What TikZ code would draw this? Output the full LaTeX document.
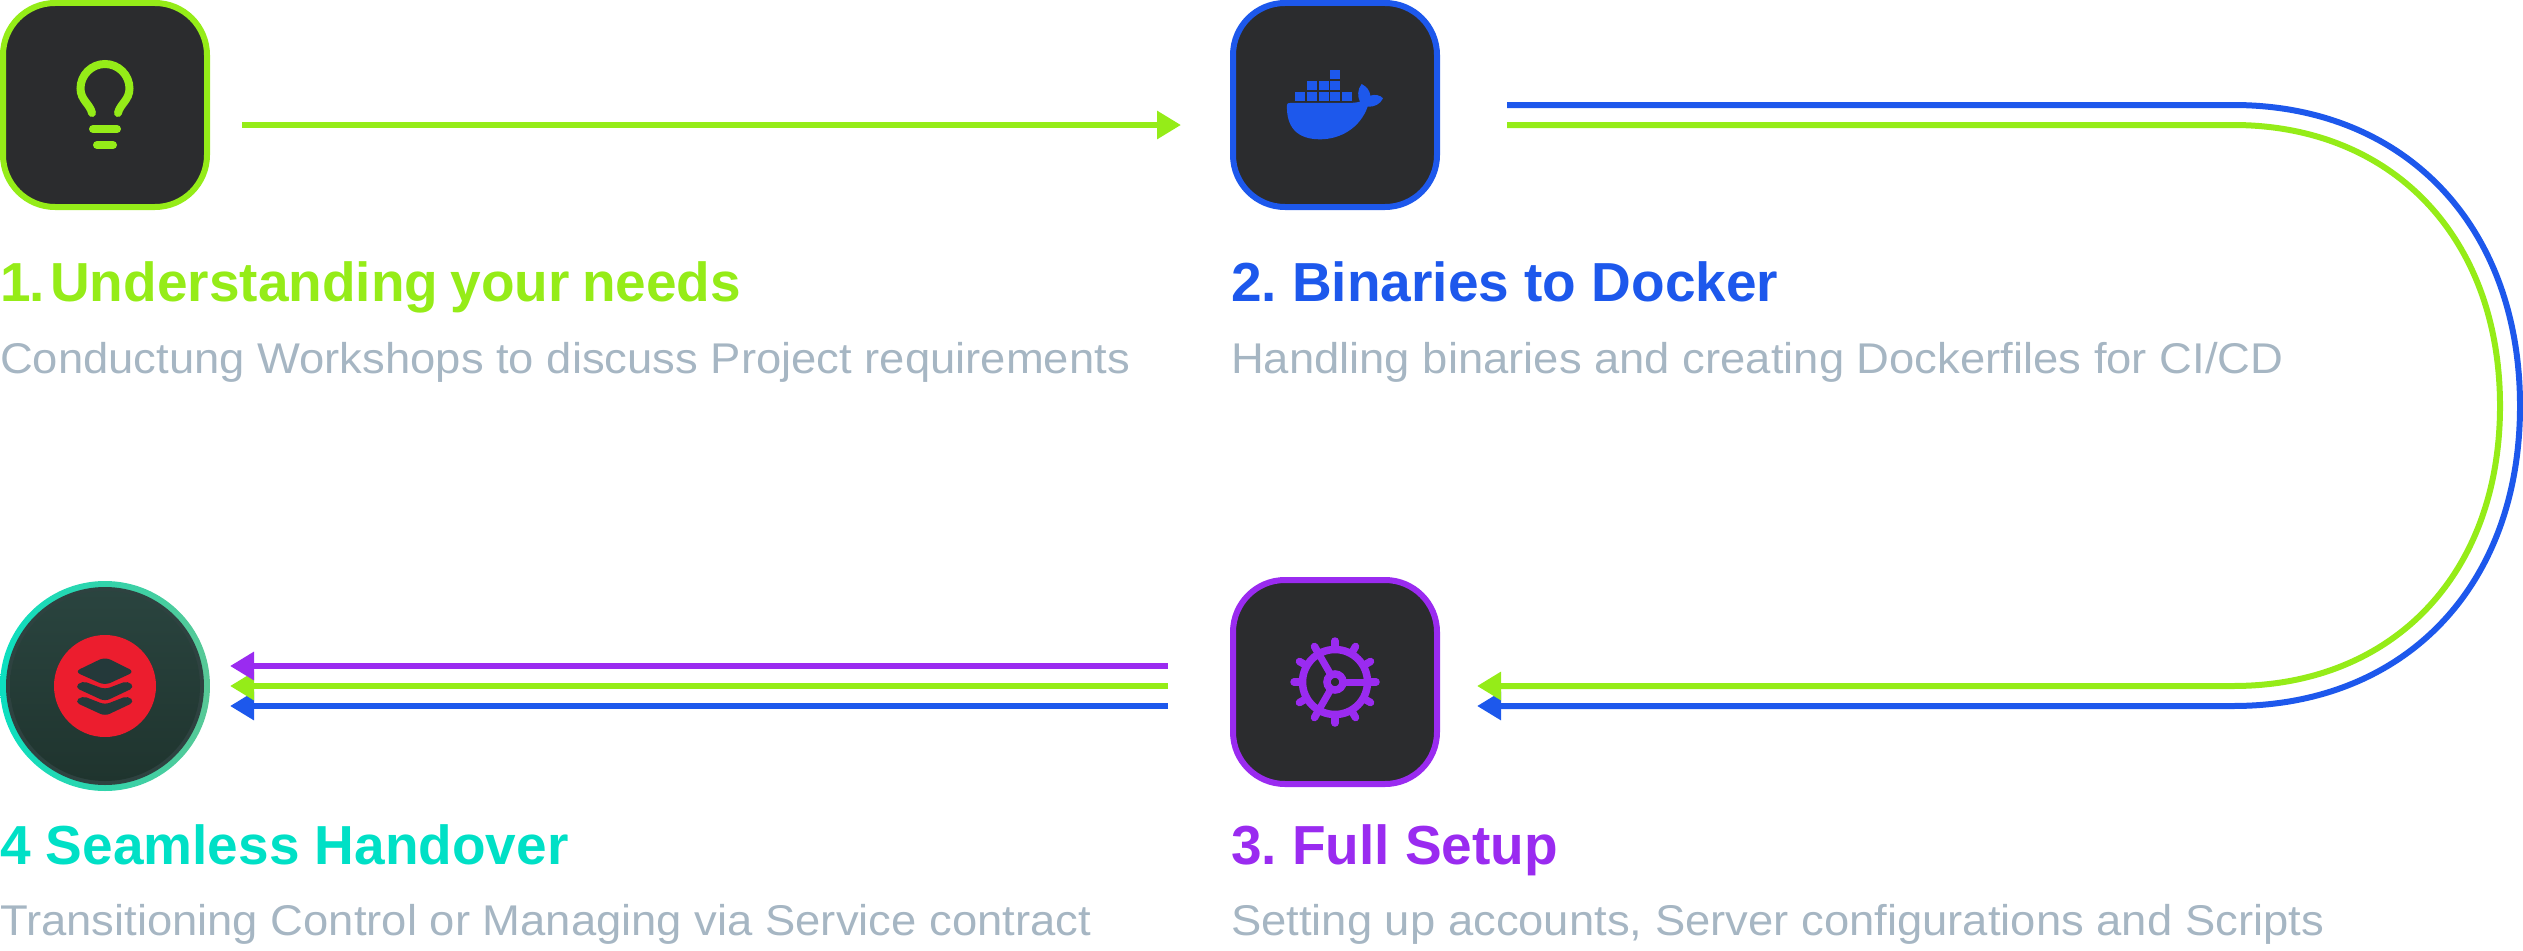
\documentclass[tikz,border=0pt]{standalone}
\usepackage{fontspec}
\setmainfont{Liberation Sans}
\newfontfamily\subfont[FakeStretch=1.056]{Liberation Sans}
\usetikzlibrary{arrows.meta}
\definecolor{cgreen}{HTML}{95EC18}
\definecolor{cblue}{HTML}{1D58EC}
\definecolor{cpurple}{HTML}{9A2BF0}
\definecolor{cteal}{HTML}{00E0C6}
\definecolor{cgrey}{HTML}{A6B6C3}
\definecolor{cdark}{HTML}{2B2C2E}
\definecolor{cred}{HTML}{EC1D2E}
\definecolor{ringl}{HTML}{0CDFC0}
\definecolor{ringr}{HTML}{58C896}
\definecolor{disct}{HTML}{2A443F}
\definecolor{discb}{HTML}{1F342E}
\definecolor{discm}{HTML}{24393A}
\definecolor{discedge}{HTML}{2E4240}
\tikzset{
  x=1pt,y=-1pt,
  tile/.style={draw=#1,fill=cdark,line width=6pt,rounded corners=52pt,minimum size=204pt,inner sep=0pt,outer sep=0pt,anchor=north west},
  ttl/.style={text=#1,anchor=base west,inner sep=0pt,outer sep=0pt,font=\fontsize{55}{60}\selectfont\bfseries},
  sub/.style={text=cgrey,anchor=base west,inner sep=0pt,outer sep=0pt,font=\fontsize{43}{48}\subfont},
  conn/.style={draw=#1,line width=6pt},
  arr/.style={conn=#1,-{Triangle[length=24pt,width=27pt]}},
  ico/.style={draw=#1,line width=8pt,line cap=round},
}
\begin{document}
\begin{tikzpicture}
\useasboundingbox (0,0) rectangle (2523,950);
% tiles
\node[tile=cgreen] (t1) at (3,3) {};
\node[tile=cblue] (t2) at (1233,3) {};
\node[tile=cpurple] (t3) at (1233,580) {};
% handover disc
\shade[left color=ringl,right color=ringr] (105,686) circle (105);
\fill[discedge] (105,686) circle (99);
\shade[top color=disct,bottom color=discb] (105,686) circle (95);
\node[circle,fill=cred,minimum size=102pt,inner sep=0pt,outer sep=0pt] (t4) at (105,686) {};
% layers icon
\begin{scope}[shift={(40,630)},x=0.3333pt,y=-0.3333pt]
  \fill[discm,rounded corners=6pt] (104,125) -- (195,81) -- (284,125) -- (195,166) -- cycle;
  \fill[discm,rounded corners=5pt] (104,172) -- (126,152) -- (195,178) -- (264,152) -- (284,172) -- (195,214) -- cycle;
  \fill[discm,rounded corners=5pt] (104,216) -- (126,197) -- (195,224) -- (264,197) -- (284,216) -- (195,258) -- cycle;
\end{scope}
% bulb icon
\draw[ico=cgreen] (92,113) .. controls (90,104) and (80.5,100) .. (80.5,88.5) arc (180:360:24.5) .. controls (129.5,100) and (120,104) .. (118,113);
\draw[ico=cgreen] (93,129) -- (117,129);
\draw[ico=cgreen] (97,145) -- (113,145);
% docker icon
\begin{scope}[shift={(1200,0)},x=0.3333pt,y=-0.3333pt]
  \foreach \xa in {285,320,356,391,426} \fill[cblue] (\xa,277) rectangle ++(30,27);
  \foreach \xa in {320,356,391} \fill[cblue] (\xa,244) rectangle ++(30,27);
  \fill[cblue] (391,211) rectangle ++(30,27);
  \fill[cblue] (261,314) .. controls (262,310) and (264,309) .. (270,309) -- (440,309)
    .. controls (455,309) and (470,308) .. (480,305)
    .. controls (472,290) and (472,268) .. (485,252)
    .. controls (500,260) and (510,272) .. (511,287)
    .. controls (525,282) and (542,286) .. (549,295)
    .. controls (542,312) and (522,322) .. (503,320)
    .. controls (480,385) and (420,418) .. (360,418)
    .. controls (290,418) and (258,380) .. (261,314) -- cycle;
\end{scope}
% gear icon
\begin{scope}[shift={(1335,682)}]
  \draw[cpurple,line width=7.5pt] (0,0) circle (32.5);
  \draw[cpurple,line width=7.5pt] (0,0) circle (8);
  \foreach \ang in {0,30,...,330}
    \draw[cpurple,line width=7.5pt,line cap=round] (\ang:33) -- (\ang:41);
  \foreach \ang in {0,120,240}
    \draw[cpurple,line width=7pt] (\ang:10) -- (\ang:32);
\end{scope}
% connector ends
\coordinate (a1s) at (242,125);
\coordinate (a1e) at (1181,125);
\coordinate (b2s) at (1507,105);
\coordinate (g2s) at (1507,125);
\coordinate (b2e) at (1477,706);
\coordinate (g2e) at (1477,686);
\coordinate (b3s) at (1168,706);
\coordinate (g3s) at (1168,686);
\coordinate (p3s) at (1168,666);
\coordinate (b3e) at (230,706);
\coordinate (g3e) at (230,686);
\coordinate (p3e) at (230,666);
% connectors
\draw[arr=cgreen] (a1s) -- (a1e);
\draw[arr=cblue] (b2s) -- (2233,105) .. controls (2405,105) and (2520,226) .. (2520,406) .. controls (2520,586) and (2405,706) .. (2233,706) -- (b2e);
\draw[arr=cgreen] (g2s) -- (2233,125) .. controls (2393,125) and (2500,238) .. (2500,406) .. controls (2500,574) and (2393,686) .. (2233,686) -- (g2e);
\draw[arr=cblue] (b3s) -- (b3e);
\draw[arr=cgreen] (g3s) -- (g3e);
\draw[arr=cpurple] (p3s) -- (p3e);
% texts
\node[ttl=cgreen] (h1) at (0,301) {1\kern-1.5pt.\hspace{-14.5pt} Understanding\hspace{-3pt} your\hspace{-3pt} needs};
\node[sub] (s1) at (0,373) {Conductung Workshops to discuss Project requirements};
\node[ttl=cblue] (h2) at (1231,301) {2.\hspace{-5pt} Binaries to Docker};
\node[sub] (s2) at (1231,373) {Handling binaries and creating Dockerfiles for CI/CD};
\node[ttl=cpurple] (h3) at (1231,864) {3.\hspace{-5pt} Full Setup};
\node[sub] (s3) at (1231,935) {Setting up accounts, Server configurations and Scripts};
\node[ttl=cteal] (h4) at (0,864) {4 Seamless Handover};
\node[sub] (s4) at (0,935) {Transitioning Control or Managing via Service contract};
\end{tikzpicture}
\end{document}
